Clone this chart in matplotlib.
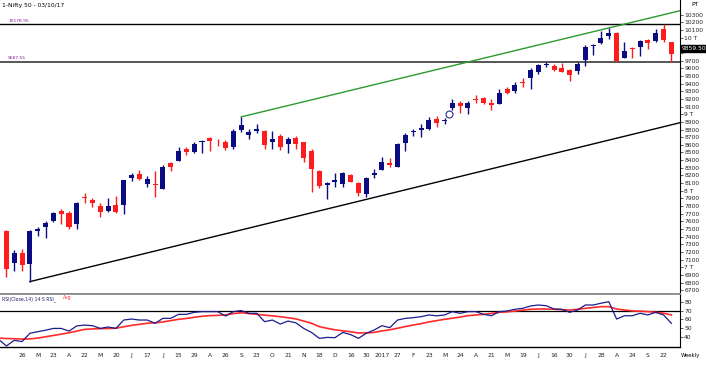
import matplotlib
matplotlib.use("Agg")
import matplotlib.pyplot as plt
import numpy as np

# ---------------- data ----------------
opens = [7480, 7050, 7190, 7040, 7480, 7525, 7605, 7730, 7715, 7565,
         7915, 7878, 7800, 7739, 7813, 7813, 8160, 8218, 8088, 8090,
         8020, 8358, 8392, 8540, 8510, 8640, 8689, 8668, 8640, 8575,
         8790, 8732, 8780, 8784, 8640, 8715, 8607, 8693, 8637, 8519,
         8262, 8080, 8120, 8088, 8205, 8105, 7957, 8201, 8270, 8366,
         8314, 8620, 8770, 8800, 8802, 8933, 8905, 9077, 9150, 9077,
         9195, 9208, 9150, 9133, 9325, 9307, 9420, 9470, 9547, 9645,
         9634, 9608, 9578, 9565, 9708, 9888, 9926, 10026, 10057, 9739,
         9865, 9882, 9970, 9957, 10114, 9940]
highs = [7490, 7225, 7235, 7490, 7530, 7610, 7720, 7757, 7735, 7856,
         7965, 7900, 7835, 7900, 7931, 8145, 8236, 8270, 8192, 8262,
         8336, 8379, 8575, 8567, 8640, 8663, 8698, 8672, 8663, 8802,
         8965, 8802, 8872, 8790, 8784, 8741, 8698, 8715, 8640, 8541,
         8270, 8118, 8236, 8250, 8225, 8118, 8183, 8280, 8436, 8424,
         8620, 8750, 8802, 8872, 8967, 8976, 8946, 9195, 9176, 9170,
         9251, 9220, 9195, 9325, 9350, 9425, 9470, 9600, 9660, 9686,
         9660, 9665, 9591, 9678, 9905, 9913, 10088, 10123, 10070, 9940,
         9882, 9970, 9983, 10114, 10179, 9945]
lows = [6870, 6945, 6955, 6812, 7408, 7380, 7595, 7570, 7495, 7495,
        7840, 7783, 7660, 7725, 7705, 7695, 8131, 8140, 8044, 7914,
        8018, 8262, 8390, 8467, 8497, 8497, 8524, 8584, 8532, 8541,
        8770, 8672, 8750, 8541, 8541, 8532, 8489, 8541, 8379, 7987,
        8031, 7888, 8044, 8044, 8110, 7931, 7914, 8162, 8265, 8306,
        8310, 8523, 8715, 8698, 8793, 8837, 8872, 9060, 9010, 9005,
        9150, 9130, 9055, 9133, 9270, 9281, 9360, 9330, 9530, 9621,
        9570, 9547, 9434, 9521, 9634, 9774, 9920, 9983, 9685, 9730,
        9730, 9765, 9852, 9950, 9948, 9688]
closes = [6980, 7190, 7030, 7475, 7495, 7580, 7705, 7700, 7530, 7843,
          7900, 7838, 7722, 7800, 7722, 8140, 8203, 8157, 8157, 8072,
          8314, 8316, 8524, 8510, 8610, 8655, 8654, 8660, 8554, 8784,
          8860, 8763, 8810, 8597, 8672, 8575, 8672, 8610, 8424, 8280,
          8061, 8095, 8140, 8236, 8118, 7974, 8162, 8236, 8379, 8336,
          8610, 8728, 8785, 8820, 8924, 8889, 8925, 9142, 9107, 9150,
          9180, 9142, 9120, 9281, 9281, 9382, 9405, 9578, 9643, 9660,
          9578, 9556, 9512, 9652, 9882, 9900, 10000, 10057, 9695, 9826,
          9850, 9957, 9926, 10057, 9964, 9788]

# RSI (first value belongs to the week before the first visible candle)
rsi = [37, 29.5, 36, 34.5, 44, 45.8, 47.5, 49.6, 49.6, 46.5, 52.5,
       53.4, 52.7, 49.6, 51.2, 49.6, 59.2, 60.3, 59.2, 59.2, 55.4,
       61.1, 61.1, 65.7, 65.7, 68, 68.8, 68.8, 68.8, 63.8, 68.8,
       70, 66.9, 66.9, 57.3, 59.2, 54.6, 58, 56, 49.6, 45,
       38.2, 39.3, 39, 45, 42.5, 38.2, 44, 47.7, 52.7, 50.4,
       59.2, 61.1, 61.9, 63, 65, 64, 65, 68.8, 66.9, 68.8,
       68.8, 65.7, 64.1, 68.8, 69.5, 71.5, 72.6, 75.3, 76.4, 75.6,
       71.8, 71.5, 68, 70.6, 76.4, 76.4, 78.4, 80.2, 60.3, 64.1,
       64.1, 66.9, 65, 68, 65, 55.4]
rsi_avg = [38.5, 38, 37.8, 37.4, 37.6, 38.5, 40, 41.5, 43, 44.6, 46.5,
           48.5, 49, 49.3, 49.5, 49.8, 51.5, 53, 54.3, 55.5, 56,
           57, 58.5, 60, 61, 62.3, 63.5, 64.2, 64.5, 65, 66.5,
           67.6, 66.5, 65.7, 64.8, 64, 63, 61.8, 60.5, 58, 55.5,
           51.6, 49.7, 48, 46.8, 45.8, 44.3, 44.5, 45, 46.7, 48,
           49.8, 51.7, 53.5, 55, 57, 58.5, 60, 61.3, 62.6, 64.2,
           65, 65.7, 66.8, 68, 68.6, 69.4, 70.5, 71.5, 71.8, 71.8,
           71.6, 71, 70.6, 71.5, 72.6, 73.5, 74.5, 74.5, 71.8, 70.7,
           69.6, 69.3, 68.8, 68, 67, 65]

# date labels every two weeks, starting at the 3rd candle
date_labels = ["26", "M", "23", "A", "22", "M", "20", "J", "17", "J", "15",
               "29", "A", "26", "S", "23", "O", "21", "N", "18", "D", "16",
               "30", "2017", "27", "F", "23", "M", "24", "A", "21", "M", "19",
               "J", "16", "30", "J", "28", "A", "24", "S", "22"]

level_high = 10178.95
level_low = 9687.55
last_price = 9859.50
upper_trend = [(30, 8965), (86.1, 10353)]
lower_trend = [(3, 6812), (86.1, 8889)]
gap_week = 56

# ---------------- figure ----------------
W, H = 706, 368
fig = plt.figure(figsize=(W / 100, H / 100), dpi=100)
ax = fig.add_axes([0, 1 - 294 / H, 680 / W, 294 / H])
ax2 = fig.add_axes([0, 1 - 347 / H, 680 / W, 53 / H], sharex=ax)

BLUE = "#0c0c82"
RED = "#ff1c1c"
n = len(closes)
x = np.arange(n)
o = np.array(opens, float)
c = np.array(closes, float)
hi = np.array(highs, float)
lo = np.array(lows, float)
up = c >= o
cols = np.where(up, BLUE, RED)

ax.vlines(x, lo, hi, colors=cols, linewidth=1.0, zorder=3)
bottoms = np.minimum(o, c)
heights = np.maximum(np.abs(c - o), 9)
ax.bar(x, heights, bottom=bottoms, width=0.64, color=cols, linewidth=0, zorder=4)

# levels
ax.axhline(level_high, color="black", lw=1.0, zorder=2)
ax.axhline(level_low, color="#555555", lw=1.4, zorder=2)
yt = ax.get_yaxis_transform()
ax.text(0.012, level_high + 18, f"{level_high:.2f}", transform=yt, fontsize=3.2,
        color="#8a1a9a", va="bottom", ha="left")
ax.text(0.012, level_low + 18, f"{level_low:.2f}", transform=yt, fontsize=3.2,
        color="#8a1a9a", va="bottom", ha="left")

# trendlines
xlim = (-0.82, 86.1)
ax.plot([p[0] for p in upper_trend], [p[1] for p in upper_trend], color="#2e9a2e", lw=1.0, zorder=2)
ax.plot([p[0] for p in lower_trend], [p[1] for p in lower_trend], color="black", lw=1.0, zorder=2)

# gap marker
ax.plot([gap_week + 0.55], [(highs[gap_week] + lows[gap_week + 1]) / 2], marker="o",
        markersize=5, markerfacecolor="none", markeredgecolor="#2a2a8a", markeredgewidth=0.8, zorder=5)

ax.set_xlim(*xlim)
ax.set_ylim(6650, 10493)
for s in ["left", "top"]:
    ax.spines[s].set_visible(False)
ax.spines["bottom"].set_color("#8c8c8c")
ax.spines["bottom"].set_linewidth(1.3)
ax.spines["right"].set_linewidth(0.8)
ax.yaxis.tick_right()
ticks = np.arange(6700, 10301, 100)
ax.set_yticks(ticks)
hidden = (9800, 9900)   # covered by the last-price box
ax.set_yticklabels(["" if t in hidden else (f"{int(t // 1000)} T" if t % 1000 == 0 else f"{int(t)}")
                    for t in ticks])
ax.tick_params(axis="y", labelsize=4.3, length=2, width=0.5, pad=1, colors="#222222")
ax.tick_params(axis="x", bottom=False, labelbottom=False)

ax.text(1.003, last_price, f"{last_price:.2f}", transform=yt, fontsize=4.3, color="white",
        va="center", ha="left", clip_on=False,
        bbox=dict(boxstyle="square,pad=0.15", fc="black", ec="black"), zorder=10)

fig.text(2 / W, 1 - 5 / H, "1-Nifty 50 - 03/10/17", fontsize=4.3, va="center", ha="left")
fig.text(691 / W, 1 - 5 / H, "PT", fontsize=4.3, va="center", ha="left")

# ---------------- RSI ----------------
xr = np.arange(-1, n)
ax2.plot(xr, rsi_avg, color="#ff2a2a", lw=1.2, zorder=3)
ax2.plot(xr, rsi, color="#1c1c8c", lw=0.9, zorder=4)
ax2.axhline(70, color="black", lw=0.9, zorder=2)
ax2.set_ylim(28.3, 89)
ax2.set_xlim(*xlim)
ax2.spines["left"].set_visible(False)
ax2.spines["top"].set_color("#8c8c8c")
ax2.spines["top"].set_linewidth(1.3)
ax2.spines["bottom"].set_linewidth(1.0)
ax2.spines["right"].set_linewidth(0.8)
ax2.yaxis.tick_right()
ax2.set_yticks([40, 50, 60, 70, 80])
ax2.tick_params(axis="y", labelsize=4.3, length=2, width=0.5, pad=1, colors="#222222")
ax2.set_xticks(np.arange(2, 2 + 2 * len(date_labels), 2))
ax2.set_xticklabels(date_labels)
ax2.tick_params(axis="x", labelsize=4.3, length=0, pad=4, colors="#222222")
ax2.text(0.003, 0.9, "RSI(Close,14) 14 S RSI_", transform=ax2.transAxes, fontsize=3.3,
         color="#1c1c6c", va="center", ha="left")
fig.text(63 / W, 1 - 298 / H, "Avg", fontsize=3.3, color="#ff2a2a", va="center", ha="left")
fig.text(681 / W, 1 - 355 / H, "Weekly", fontsize=3.9, va="center", ha="left")

fig.savefig("out.png", dpi=100)
